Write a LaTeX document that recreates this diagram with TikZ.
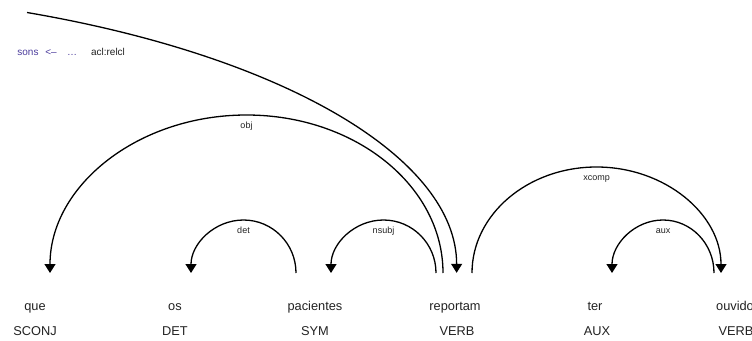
\documentclass[tikz,border=0pt]{standalone}
\usepackage{fontspec}
\setmainfont{Liberation Sans}
\usetikzlibrary{arrows.meta}
\definecolor{headcol}{HTML}{4B3C9C}
\definecolor{txtcol}{HTML}{222222}
\begin{document}
\begin{tikzpicture}[x=1pt,y=1pt,
  word/.style={font=\fontsize{12.8}{14}\selectfont, text=txtcol, anchor=base, inner sep=0pt},
  lbl/.style={font=\fontsize{9}{10}\selectfont, text=txtcol, anchor=base, inner sep=0pt},
  toplbl/.style={font=\fontsize{10}{12}\selectfont, anchor=base, inner sep=0pt},
  dep/.style={line width=1.3pt, -{Triangle[width=11pt,length=9pt]}},
]
\useasboundingbox (0,0) rectangle (752,-340);
% words
\node[word] (w1) at (35,-310) {que};
\node[word] (w2) at (175,-310) {os};
\node[word] (w3) at (315,-310) {pacientes};
\node[word] (w4) at (455,-310) {reportam};
\node[word] (w5) at (595,-310) {ter};
\node[word] (w6) at (735,-310) {ouvido};
\node[word] (p1) at (35,-335) {SCONJ};
\node[word] (p2) at (175,-335) {DET};
\node[word] (p3) at (315,-335) {SYM};
\node[word] (p4) at (457,-335) {VERB};
\node[word] (p5) at (597,-335) {AUX};
\node[word] (p6) at (736,-335) {VERB};
% arc end points
\coordinate (que-in) at (50,-273);
\coordinate (os-in) at (191,-273);
\coordinate (pac-out) at (296,-273);
\coordinate (pac-in) at (331,-273);
\coordinate (rep-nsubj) at (436,-273);
\coordinate (rep-obj) at (443,-273);
\coordinate (rep-in) at (457,-273);
\coordinate (rep-xcomp) at (472,-273);
\coordinate (ter-in) at (612,-273);
\coordinate (ouv-aux) at (714,-273);
\coordinate (ouv-in) at (721,-273);
\coordinate (acl-start) at (27,-12.5);
% arcs
\draw[dep] (pac-out) arc[start angle=0, end angle=180, x radius=52.5, y radius=53];
\draw[dep] (rep-nsubj) arc[start angle=0, end angle=180, x radius=52.5, y radius=53];
\draw[dep] (rep-obj) arc[start angle=0, end angle=180, x radius=196.5, y radius=158];
\draw[dep] (rep-xcomp) arc[start angle=180, end angle=0, x radius=124.5, y radius=106];
\draw[dep] (ouv-aux) arc[start angle=0, end angle=180, x radius=51, y radius=53];
\draw[dep] (acl-start) arc[start angle=66.9, end angle=0, x radius=707, y radius=283];
% labels
\node[lbl] (l-obj) at (246.5,-128) {obj};
\node[lbl] (l-det) at (243.5,-233) {det};
\node[lbl] (l-nsubj) at (383.5,-233) {nsubj};
\node[lbl] (l-xcomp) at (596.5,-180) {xcomp};
\node[lbl] (l-aux) at (663,-233) {aux};
% head reference
\node[toplbl, text=headcol] (sons) at (28,-55) {sons};
\node[toplbl, text=headcol] (larr) at (51,-55) {<–};
\node[toplbl, text=headcol] (dots) at (72,-55) {…};
\node[toplbl, text=txtcol] (acl) at (108,-55) {acl:relcl};
\end{tikzpicture}
\end{document}
